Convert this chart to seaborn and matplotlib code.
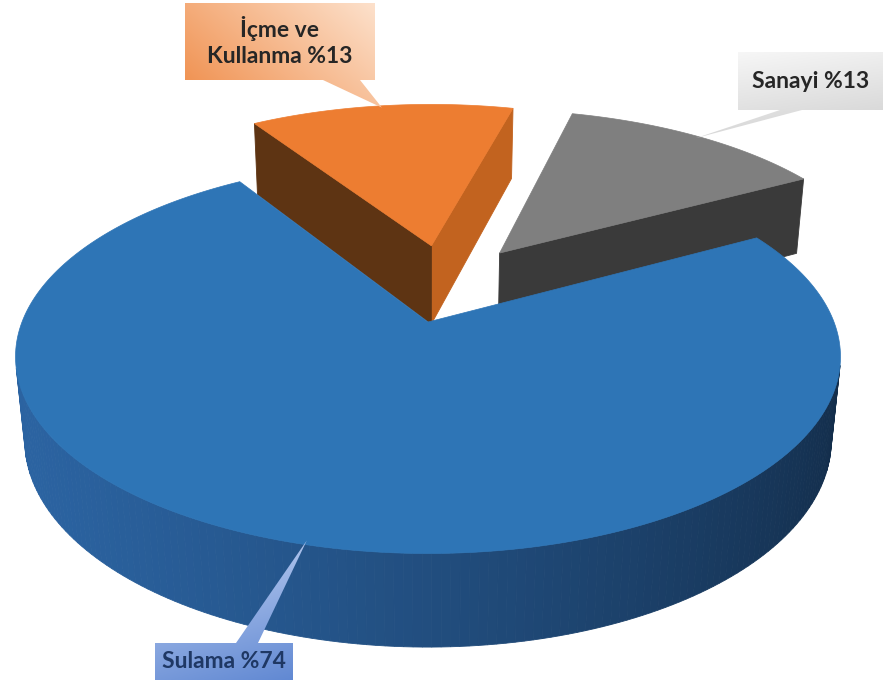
import numpy as np
import matplotlib
matplotlib.use("Agg")
import matplotlib.pyplot as plt
import seaborn as sns
from matplotlib.patches import Polygon
from matplotlib.colors import to_rgb

# ---- data -------------------------------------------------------------
categories = ["Sulama", "Sanayi", "İçme ve\nKullanma"]
shares = [74, 13, 13]                     # percent
explode = [0.0, 0.43, 0.43]               # radial offset, in pie radii

# ---- styling ----------------------------------------------------------
top_colors = ["#2e75b6", "#7f7f7f", "#ed7d31"]
wall_light = ["#2b63a1", "#6a6a6a", "#c8692a"]
wall_dark = ["#122b47", "#333333", "#6a3814"]
cut_start_colors = ["#1d4670", "#3a3a3a", "#c2631f"]
cut_end_colors = ["#1d4670", "#5a5a5a", "#5e3413"]
explode_turn = [0.0, 12.0, -10.0]         # degrees added to each slice's push direction

sns.set_theme(style="white")

# ---- camera / projection ---------------------------------------------
ELEV = np.radians(28.0)
DIST = 5.0
SCALE = 406.0
CX, CY = 428.0, 322.0
HEIGHT = 0.235
START = 122.2          # degrees, slices run counter-clockwise from here
S_E, C_E = np.sin(ELEV), np.cos(ELEV)
CAM = np.array([0.0, -DIST * C_E, DIST * S_E])


def project(x, y, z):
    x, y, z = np.asarray(x, float), np.asarray(y, float), np.asarray(z, float)
    depth = DIST + y * C_E - z * S_E
    v = y * S_E + z * C_E
    return CX + SCALE * DIST * x / depth, CY - SCALE * DIST * v / depth


def visible(point, normal):
    return np.dot(CAM - np.asarray(point), np.asarray(normal)) > 0


def poly2d(pts3):
    pts3 = np.asarray(pts3)
    X, Y = project(pts3[:, 0], pts3[:, 1], pts3[:, 2])
    return np.column_stack([X, Y])


fig = plt.figure(figsize=(8.83, 6.88), dpi=100)
ax = fig.add_axes([0, 0, 1, 1])
ax.set_axis_off()

# slice angles
bounds = START + 360.0 * np.concatenate([[0], np.cumsum(shares)]) / 100.0
slices = []
for i in range(len(shares)):
    a0, a1 = bounds[i], bounds[i + 1]
    mid = np.radians((a0 + a1) / 2)
    push = mid + np.radians(explode_turn[i])
    ox, oy = explode[i] * np.cos(push), explode[i] * np.sin(push)
    slices.append(dict(i=i, a0=a0, a1=a1, mid=mid, ox=ox, oy=oy))

# paint far slices first
order = sorted(slices, key=lambda s: -s["oy"])


def wall_color(i, t):
    w = ((1 + np.cos(t - np.radians(200))) / 2) ** 1.2
    c0, c1 = np.array(to_rgb(wall_dark[i])), np.array(to_rgb(wall_light[i]))
    return c0 + (c1 - c0) * w


zbase = 1
for s in order:
    i, ox, oy = s["i"], s["ox"], s["oy"]
    t = np.radians(np.linspace(s["a0"], s["a1"], 240))
    # radial cut faces
    for ang, col, sign in [(s["a0"], cut_start_colors[i], -1), (s["a1"], cut_end_colors[i], 1)]:
        a = np.radians(ang)
        n = np.array([np.cos(a + sign * np.pi / 2), np.sin(a + sign * np.pi / 2), 0])
        rx, ry = ox + np.cos(a), oy + np.sin(a)
        pc = [(ox + rx) / 2, (oy + ry) / 2, -HEIGHT / 2]
        if visible(pc, n):
            quad = poly2d([[ox, oy, 0], [rx, ry, 0], [rx, ry, -HEIGHT], [ox, oy, -HEIGHT]])
            ax.add_patch(Polygon(quad, closed=True, facecolor=col, edgecolor=col,
                                 lw=0.6, zorder=zbase))
    # curved outer wall
    for k in range(len(t) - 1):
        tm = (t[k] + t[k + 1]) / 2
        n = np.array([np.cos(tm), np.sin(tm), 0])
        pc = [ox + np.cos(tm), oy + np.sin(tm), -HEIGHT / 2]
        if not visible(pc, n):
            continue
        quad = poly2d([[ox + np.cos(t[k]), oy + np.sin(t[k]), 0],
                       [ox + np.cos(t[k + 1]), oy + np.sin(t[k + 1]), 0],
                       [ox + np.cos(t[k + 1]), oy + np.sin(t[k + 1]), -HEIGHT],
                       [ox + np.cos(t[k]), oy + np.sin(t[k]), -HEIGHT]])
        col = wall_color(i, tm)
        ax.add_patch(Polygon(quad, closed=True, facecolor=col, edgecolor=col,
                             lw=0.6, zorder=zbase))
    # top face
    top = [[ox, oy, 0]] + [[ox + np.cos(a), oy + np.sin(a), 0] for a in t]
    ax.add_patch(Polygon(poly2d(top), closed=True, facecolor=top_colors[i],
                         edgecolor=top_colors[i], lw=0.5, zorder=zbase + 0.5))
    zbase += 1


# ---- callout labels ----------------------------------------------------
def rim_point(s, r=0.985):
    x = s["ox"] + r * np.cos(s["mid"])
    y = s["oy"] + r * np.sin(s["mid"])
    X, Y = project(x, y, 0.0)
    return float(X), float(Y)


def gradient_fill(verts, c_from, c_to, direction, z):
    verts = np.asarray(verts, float)
    x0, y0 = verts.min(0)
    x1, y1 = verts.max(0)
    gx, gy = np.meshgrid(np.linspace(0, 1, 200), np.linspace(0, 1, 200))
    g = direction[0] * gx + direction[1] * gy
    g = (g - g.min()) / (g.max() - g.min())
    c0, c1 = np.array(to_rgb(c_from)), np.array(to_rgb(c_to))
    img = c0[None, None, :] * (1 - g[..., None]) + c1[None, None, :] * g[..., None]
    patch = Polygon(verts, closed=True, facecolor="none", edgecolor="none", zorder=z)
    ax.add_patch(patch)
    im = ax.imshow(img, extent=(x0, x1, y1, y0), origin="upper", aspect="auto",
                   interpolation="bilinear", zorder=z)
    im.set_clip_path(patch)


label_text = [f"{c} %{v}" for c, v in zip(categories, shares)]
label_boxes = [(155, 643, 293, 680), (738, 52, 883, 110), (185, 3, 375, 80)]
pointer_bases = [(236, 258), (780, 802), (323, 360)]
box_grad = [("#c4d4f3", "#5f87d2", (0.3, 1.0)),
            ("#f9f9f9", "#cfcfcf", (0.3, 1.0)),
            ("#fde3cf", "#ef8b47", (-1.0, 0.6))]
text_colors = ["#1f3864", "#262626", "#262626"]

for s in slices:
    i = s["i"]
    x0, y0, x1, y1 = label_boxes[i]
    b0, b1 = pointer_bases[i]
    tip = rim_point(s)
    if tip[1] > y1:       # pointer leaves from the bottom edge
        verts = [(x0, y0), (x1, y0), (x1, y1), (b1, y1), tip, (b0, y1), (x0, y1)]
    else:                 # pointer leaves from the top edge
        verts = [(x0, y0), (b0, y0), tip, (b1, y0), (x1, y0), (x1, y1), (x0, y1)]
    c_from, c_to, d = box_grad[i]
    gradient_fill(verts, c_from, c_to, d, z=10)
    ax.text((x0 + x1) / 2, (y0 + y1) / 2, label_text[i], ha="center", va="center",
            fontsize=16.5, fontweight="bold", family=["Lato", "DejaVu Sans"],
            color=text_colors[i], linespacing=1.3, zorder=11)

ax.set_xlim(0, 883)
ax.set_ylim(688, 0)
fig.savefig("out.png", dpi=100, facecolor="white")
